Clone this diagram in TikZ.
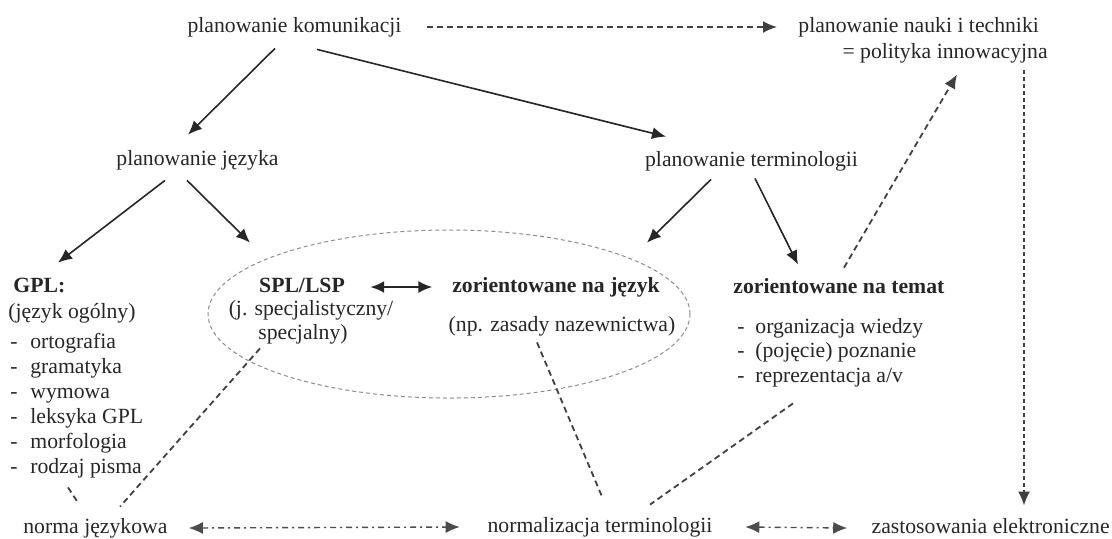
\documentclass[tikz,border=0pt]{standalone}
\usepackage{fontspec}
\setmainfont{Liberation Serif}
\usetikzlibrary{arrows.meta,calc,shapes.geometric}

\begin{document}
\begin{tikzpicture}[x=0.5pt, y=-0.5pt,
		every node/.style={font=\fontsize{10.85}{13}\selectfont, text=black!85, inner sep=0pt, text height=7.5pt, text depth=2.5pt},
		head/.style={font=\fontsize{10.85}{13}\selectfont\bfseries},
		arr/.style={line width=0.8pt, black!85, -{Latex[length=7pt,width=6pt]}},
		dline/.style={line width=0.9pt, black!75, dash pattern=on 3pt off 2pt},
		dotdash/.style={line width=0.7pt, black!70, dash pattern=on 3pt off 2pt on 1pt off 2pt, {Latex[length=7pt,width=6pt]}-{Latex[length=7pt,width=6pt]}},
		oval/.style={ellipse, draw=black!45, line width=0.5pt, dash pattern=on 2pt off 1.5pt}]
	\useasboundingbox (0,0) rectangle (1112,538);
	
	\node[oval, minimum width=241pt, minimum height=84pt] (owal) at (449,314) {};
	
	\node (komm) at (294.5,27) {planowanie komunikacji};
	\node[anchor=west] (nauka1) at (798,27) {planowanie nauki i techniki};
	\node[anchor=east] (nauka2) at (1048,53) {= polityka innowacyjna};
	\node (jezyk) at (197.5,160) {planowanie języka};
	\node (termin) at (751.5,161) {planowanie terminologii};
	
	\node[head, anchor=west] (gpl) at (13,287) {GPL:};
	\node[anchor=west] (ogol) at (8,313) {(język ogólny)};
	\foreach \t [count=\i from 0] in {ortografia, gramatyka, wymowa, leksyka GPL, morfologia, rodzaj pisma}
	{
		\node[anchor=west] (gpl\i) at (10, 343+25*\i) {\makebox[10pt][l]{-}\t};
	}
	
	\node[head] (spl) at (302,287) {SPL/LSP};
	\node (spl2) at (311,310) {(j. specjalistyczny/};
	\node (spl3) at (303,334) {specjalny)};
	\node[head] (jez) at (556,287) {zorientowane na język};
	\node (np) at (562,326) {(np. zasady nazewnictwa)};
	
	\node[head, anchor=west] (temat) at (733,288) {zorientowane na temat};
	\foreach \t [count=\i from 0] in {organizacja wiedzy, (pojęcie) poznanie, reprezentacja a/v}
	{
		\node[anchor=west] (tem\i) at (737, 328+24.5*\i) {\makebox[9pt][l]{-}\t};
	}
	
	\node[anchor=west] (norma) at (23,528) {norma językowa};
	\node (norm) at (600,527) {normalizacja terminologii};
	\node[anchor=east] (zast) at (1110,528) {zastosowania elektroniczne};
	
	\draw[arr] ($(komm.south)+(-19.5,11)$) -- ($(jezyk.north)+(-9.5,-15)$);
	\draw[arr] ($(komm.south)+(22.5,12)$) -- ($(termin.north)+(-85.5,-14)$);
	\draw[arr] ($(jezyk.south)+(-32.5,10)$) -- ($(gpl.north west)+(45,-14)$);
	\draw[arr] ($(jezyk.south)+(-10.5,10)$) -- ($(spl.north)+(-52,-34)$);
	\draw[arr] ($(termin.south)+(-40.5,8)$) -- ($(jez.north)+(91,-34)$);
	\draw[arr] ($(termin.south)+(3.5,7)$) -- ($(temat.north west)+(65,-13)$);
	\draw[arr, line width=1.1pt, {Latex[length=7pt,width=6pt]}-{Latex[length=7pt,width=6pt]}] ($(spl.east)+(25,0)$) -- ($(jez.west)+(-19.5,0)$);
	
	\draw[dline, -{Latex[length=7pt,width=6pt]}] ($(komm.east)+(25,0)$) -- ($(nauka1.west)+(-21,0)$);
	\draw[dline, -{Latex[length=7pt,width=6pt]}] ($(temat.north west)+(111,-10)$) -- ($(nauka2.south east)+(-91,11)$);
	\draw[dline, dash pattern=on 2pt off 1.5pt, -{Latex[length=7pt,width=6pt]}] ($(nauka2.south east)+(-24,7)$) -- ($(zast.north east)+(-86,-12)$);
	
	\draw[dline] ($(gpl5.south west)+(58,9)$) -- ($(norma.north west)+(55,-15)$);
	\draw[dline] ($(spl3.south)+(-43,4)$) -- ($(norma.north west)+(97,-11)$);
	\draw[dline] ($(np.south)+(-25,6)$) -- ($(norm.north)+(2,-20)$);
	\draw[dline] ($(tem2.south west)+(56,16)$) -- ($(norm.north)+(50,-12)$);
	
	\draw[dotdash] ($(norma.east)+(21,0)$) -- ($(norm.west)+(-27.5,0)$);
	\draw[dotdash] ($(norm.east)+(32.5,0)$) -- ($(zast.west)+(-24,0)$);
\end{tikzpicture}
\end{document}
